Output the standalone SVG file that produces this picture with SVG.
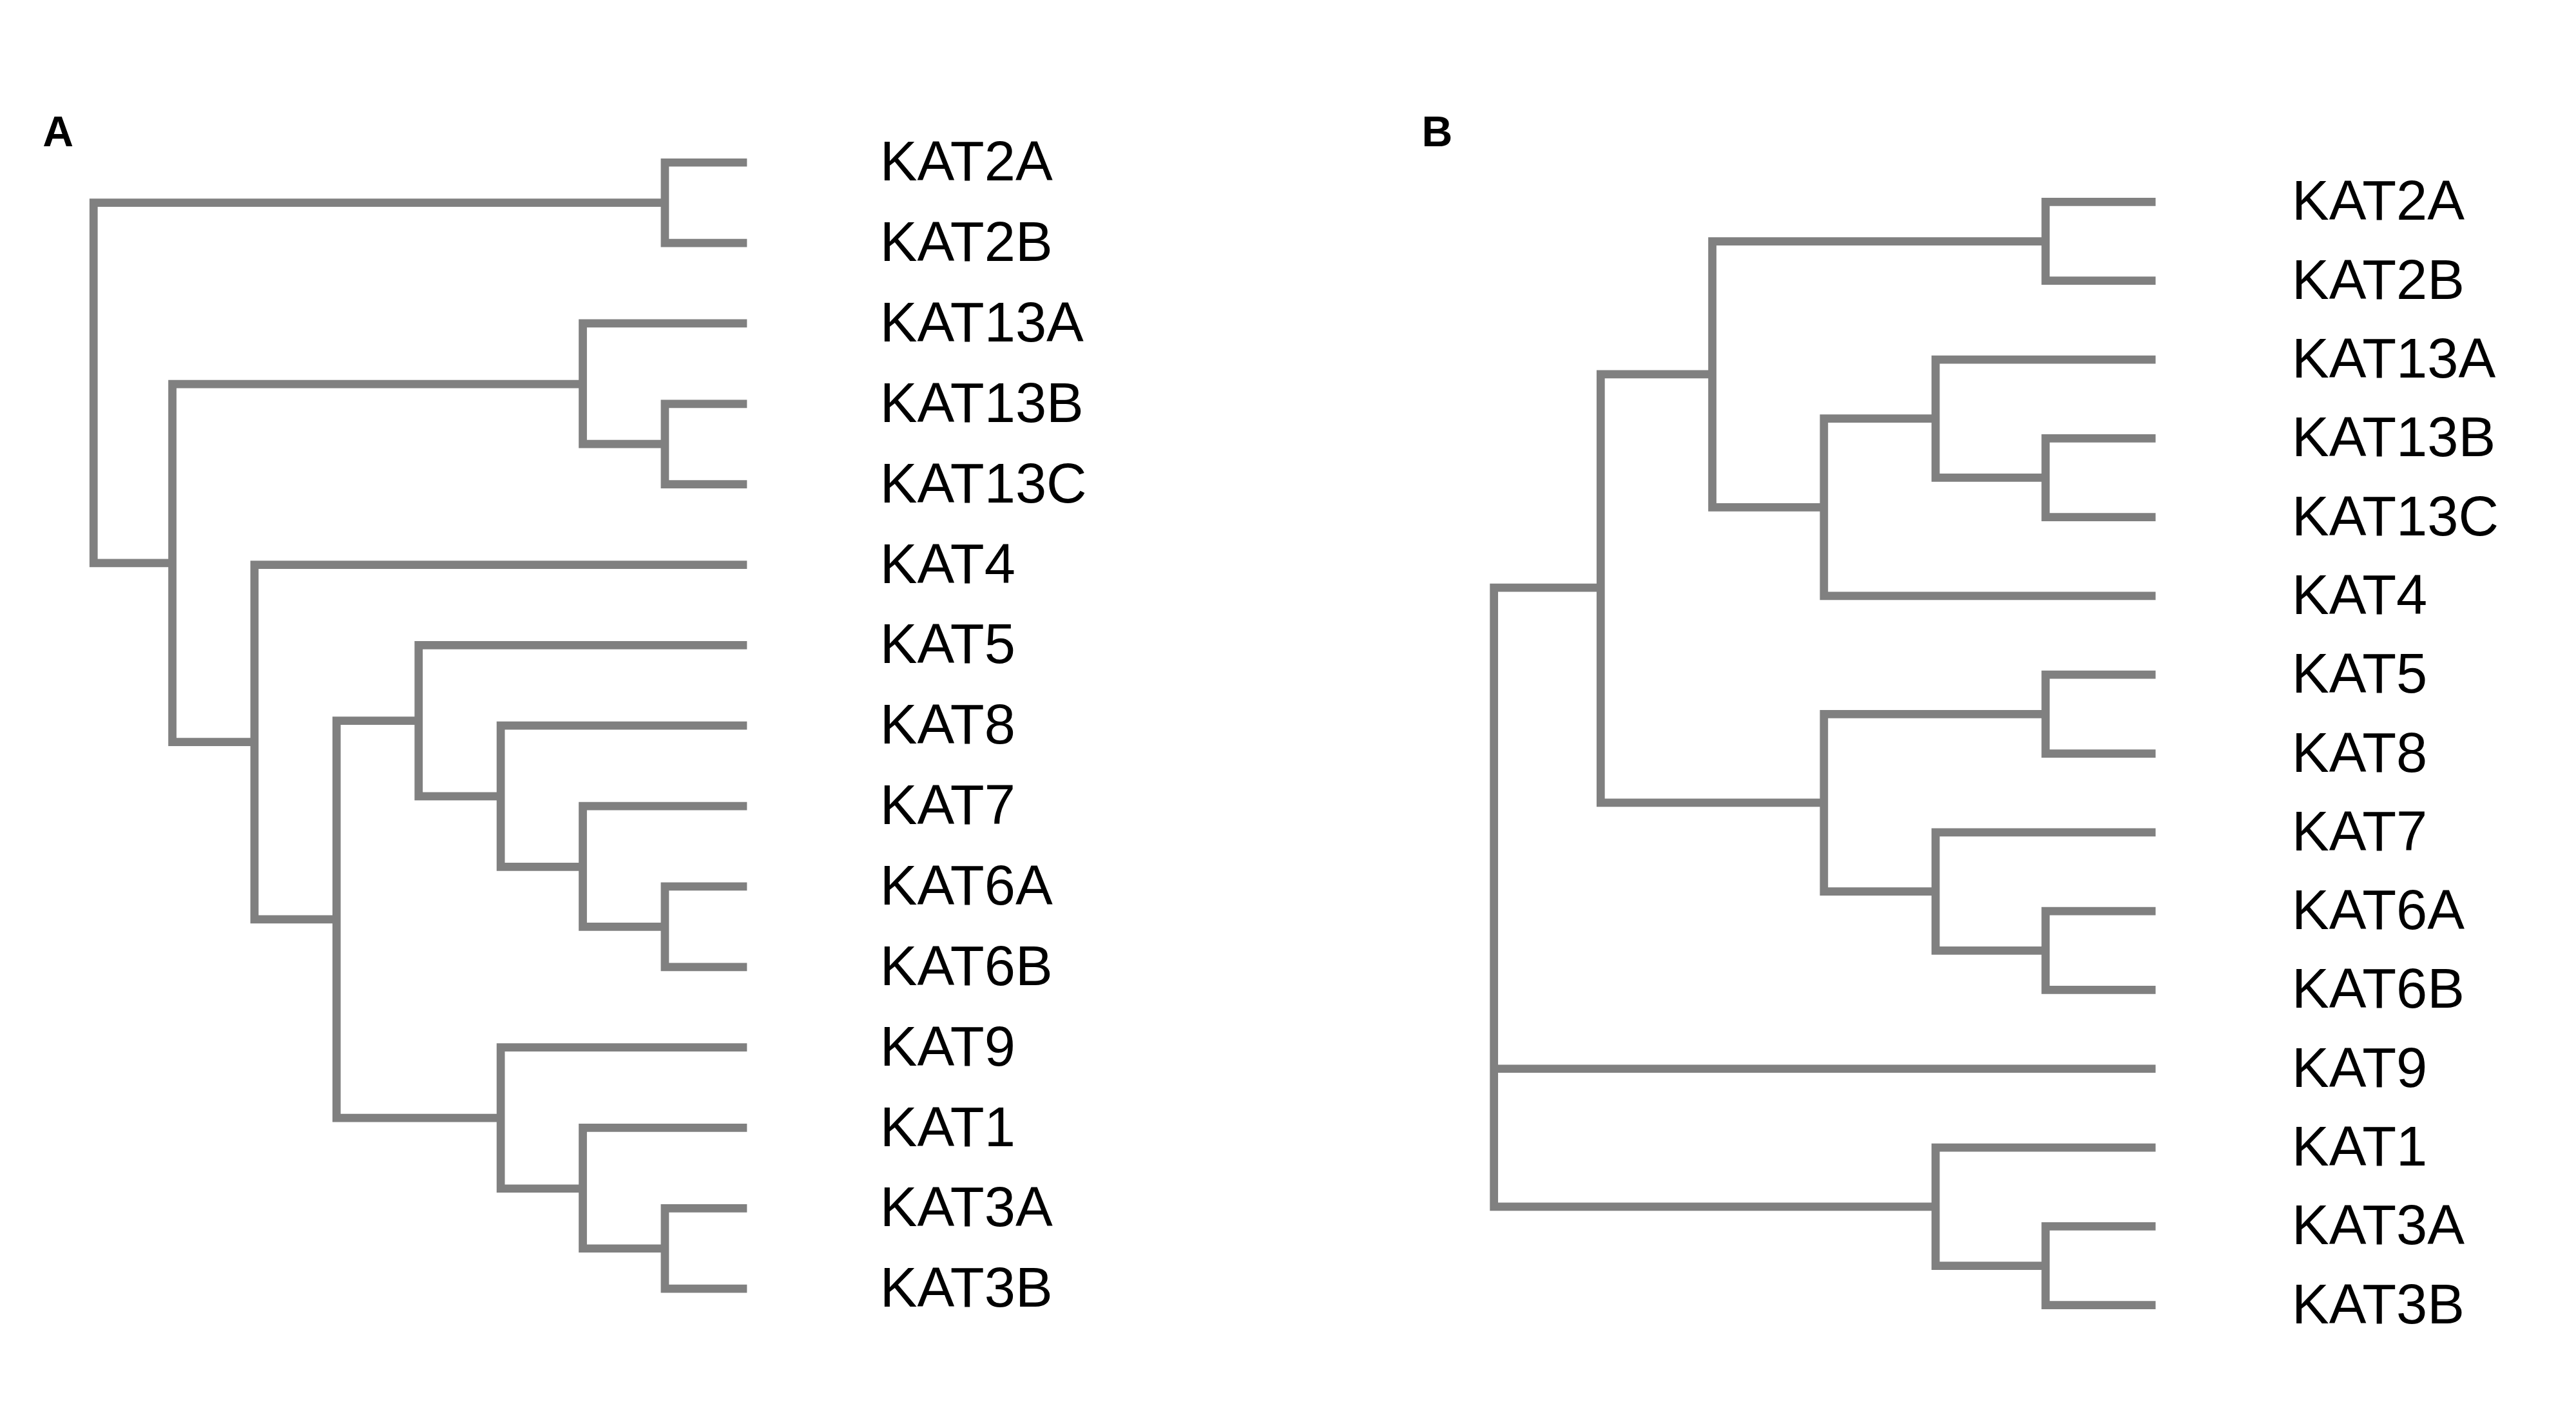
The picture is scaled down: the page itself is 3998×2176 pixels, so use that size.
<svg xmlns="http://www.w3.org/2000/svg" width="3998" height="2176" viewBox="0 0 3998 2176">
<style>
.e{fill:none;stroke:#808080;stroke-width:5;stroke-linejoin:miter}
.l{font-family:"Liberation Sans",Arial,sans-serif;font-size:34px;fill:#000}
.p{font-family:"Liberation Sans",Arial,sans-serif;font-size:26px;font-weight:bold;fill:#000}
</style>
<rect width="3998" height="2176" fill="#fff"/>
<g transform="scale(2.548)">
<g id="connectors">
<g id="treeA">
<path class="e" d="M455 99H405V148H455"/>
<path class="e" d="M455 246H405V295H455"/>
<path class="e" d="M455 197H355V270.5H405"/>
<path class="e" d="M455 540H405V589H455"/>
<path class="e" d="M455 491H355V564.5H405"/>
<path class="e" d="M455 442H305V528H355"/>
<path class="e" d="M455 393H255V485H305"/>
<path class="e" d="M455 736H405V785H455"/>
<path class="e" d="M455 687H355V760.5H405"/>
<path class="e" d="M455 638H305V724H355"/>
<path class="e" d="M255 439H205V681H305"/>
<path class="e" d="M455 344H155V560H205"/>
<path class="e" d="M355 234H105V452H155"/>
<path class="e" d="M405 123.5H57V343H105"/>
</g>
<g id="treeB">
<path class="e" d="M1313 123H1246V171H1313"/>
<path class="e" d="M1313 267H1246V315H1313"/>
<path class="e" d="M1313 219H1179V291H1246"/>
<path class="e" d="M1179 255H1111V363H1313"/>
<path class="e" d="M1246 147H1043V309H1111"/>
<path class="e" d="M1313 411H1246V459H1313"/>
<path class="e" d="M1313 555H1246V603H1313"/>
<path class="e" d="M1313 507H1179V579H1246"/>
<path class="e" d="M1246 435H1111V543H1179"/>
<path class="e" d="M1043 228H975V489H1111"/>
<path class="e" d="M1313 747H1246V795H1313"/>
<path class="e" d="M1313 699H1179V771H1246"/>
<path class="e" d="M975 358H910V735H1179"/>
<path class="e" d="M910 651H1313"/>
</g>
</g>
<g id="labelsA">
<text class="p" x="26" y="89">A</text>
<text class="l" x="536" y="110">KAT2A</text>
<text class="l" x="536" y="159">KAT2B</text>
<text class="l" x="536" y="208">KAT13A</text>
<text class="l" x="536" y="257">KAT13B</text>
<text class="l" x="536" y="306">KAT13C</text>
<text class="l" x="536" y="355">KAT4</text>
<text class="l" x="536" y="404">KAT5</text>
<text class="l" x="536" y="453">KAT8</text>
<text class="l" x="536" y="502">KAT7</text>
<text class="l" x="536" y="551">KAT6A</text>
<text class="l" x="536" y="600">KAT6B</text>
<text class="l" x="536" y="649">KAT9</text>
<text class="l" x="536" y="698">KAT1</text>
<text class="l" x="536" y="747">KAT3A</text>
<text class="l" x="536" y="796">KAT3B</text>
</g>
<g id="labelsB">
<text class="p" x="866" y="89">B</text>
<text class="l" x="1396" y="134">KAT2A</text>
<text class="l" x="1396" y="182">KAT2B</text>
<text class="l" x="1396" y="230">KAT13A</text>
<text class="l" x="1396" y="278">KAT13B</text>
<text class="l" x="1396" y="326">KAT13C</text>
<text class="l" x="1396" y="374">KAT4</text>
<text class="l" x="1396" y="422">KAT5</text>
<text class="l" x="1396" y="470">KAT8</text>
<text class="l" x="1396" y="518">KAT7</text>
<text class="l" x="1396" y="566">KAT6A</text>
<text class="l" x="1396" y="614">KAT6B</text>
<text class="l" x="1396" y="662">KAT9</text>
<text class="l" x="1396" y="710">KAT1</text>
<text class="l" x="1396" y="758">KAT3A</text>
<text class="l" x="1396" y="806">KAT3B</text>
</g>
</g>
</svg>
